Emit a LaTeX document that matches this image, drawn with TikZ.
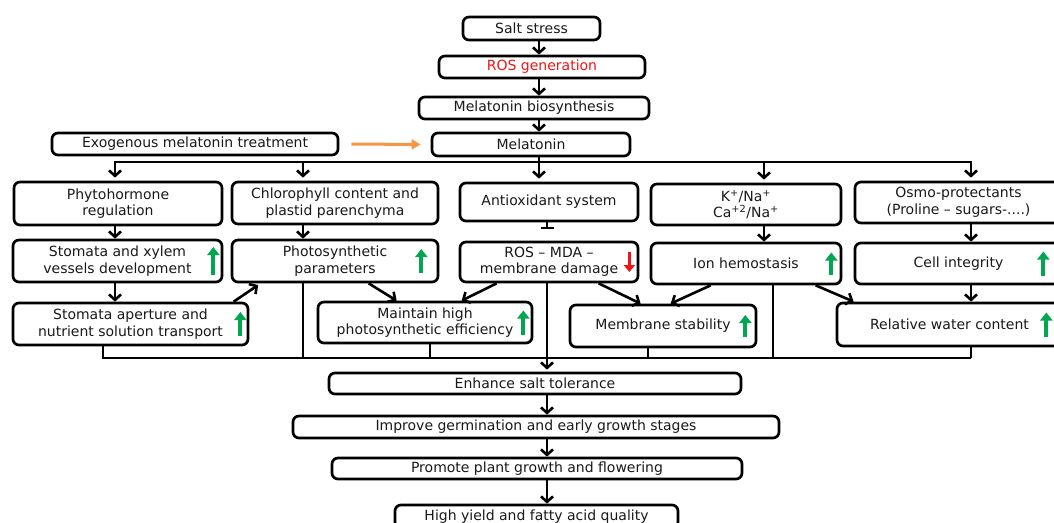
\documentclass[tikz,border=0pt]{standalone}
\usepackage{fontspec}
\setmainfont{DejaVu Sans}
\usetikzlibrary{arrows.meta,calc}
\definecolor{gcol}{RGB}{0,166,80}
\definecolor{rcol}{RGB}{240,20,20}
\definecolor{ocol}{RGB}{247,150,70}
\definecolor{tcol}{RGB}{25,25,25}
\newcommand\gupar[3]{\draw[garr] ($(#1.east)+(-#2,#3)$) -- ($(#1.east)+(-#2,-#3)$);}
\begin{document}
\begin{tikzpicture}[x=1pt,y=-1pt,
  box/.style={draw=black, line width=2.7pt, rounded corners=6pt, align=center, inner sep=0pt,
              font=\fontsize{14}{16.5}\selectfont, text=tcol},
  arr/.style={line width=2.6pt, -{Straight Barb[length=5.5pt,width=12pt]}},
  ln/.style={line width=2.6pt},
  garr/.style={line width=3.8pt, draw=gcol, -{Triangle[length=8pt,width=12pt]}},
  rarr/.style={line width=3.4pt, draw=rcol, -{Triangle[length=7pt,width=11pt]}},
  oarr/.style={line width=3pt, draw=ocol, -{Triangle[length=9pt,width=10pt]}},
]
\useasboundingbox (0,0) rectangle (1054,522);

% top chain
\node[box, minimum width=137pt, minimum height=23pt] (salt) at (531.5,28.5) {Salt stress};
\node[box, minimum width=206pt, minimum height=22pt, text=rcol] (ros) at (542,67) {ROS generation};
\node[box, minimum width=230pt, minimum height=22pt] (bio) at (534,108) {Melatonin biosynthesis};
\node[box, minimum width=198pt, minimum height=23pt] (mel) at (531,144.5) {Melatonin};
\node[box, minimum width=286pt, minimum height=22pt] (exo) at (195,144) {Exogenous melatonin treatment};

% row 1
\node[box, minimum width=208pt, minimum height=43pt] (phyto) at (118,203.5) {Phytohormone\\regulation};
\node[box, minimum width=206pt, minimum height=42pt] (chloro) at (335,203) {Chlorophyll content and\\plastid parenchyma};
\node[box, minimum width=178pt, minimum height=38pt] (anti) at (549,202) {Antioxidant system};
\node[box, minimum width=190pt, minimum height=41pt] (kna) at (746,204.5) {K\textsuperscript{+}/Na\textsuperscript{+}\\Ca\textsuperscript{+2}/Na\textsuperscript{+}};
\node[box, minimum width=207pt, minimum height=41pt] (osmo) at (958.5,202.5) {Osmo-protectants\\(Proline – sugars-....)};

% row 2
\node[box, minimum width=209pt, minimum height=42pt] (stx) at (117.5,261) {Stomata and xylem\\vessels development};
\node[box, minimum width=206pt, minimum height=42pt] (photo) at (335,261) {Photosynthetic\\parameters};
\node[box, minimum width=178pt, minimum height=40pt] (rosm) at (549,262) {ROS – MDA –\\membrane damage};
\node[box, minimum width=190pt, minimum height=41pt] (ion) at (746,263.5) {Ion hemostasis};
\node[box, minimum width=207pt, minimum height=41pt] (cell) at (958.5,263.5) {Cell integrity};

% row 3
\node[box, minimum width=235pt, minimum height=42pt] (sta) at (130.5,324) {Stomata aperture and\\nutrient solution transport};
\node[box, minimum width=214pt, minimum height=41pt] (maint) at (425,322.5) {Maintain high\\photosynthetic efficiency};
\node[box, minimum width=186pt, minimum height=42pt] (memb) at (663,326) {Membrane stability};
\node[box, minimum width=225pt, minimum height=43pt] (rel) at (949.5,324.5) {Relative water content};

% bottom chain
\node[box, minimum width=412pt, minimum height=21pt] (enh) at (535,383.5) {Enhance salt tolerance};
\node[box, minimum width=486pt, minimum height=22pt] (imp) at (536,427) {Improve germination and early growth stages};
\node[box, minimum width=410pt, minimum height=21pt] (prom) at (537,468.5) {Promote plant growth and flowering};
\node[box, minimum width=283pt, minimum height=23pt] (high) at (536.5,516.5) {High yield and fatty acid quality};

% column coordinates
\coordinate (cx) at (539,0);
\coordinate (c1) at (115,0);
\coordinate (c2) at (303,0);
\coordinate (c4) at (764,0);
\coordinate (c5) at (971,0);
\coordinate (ct) at (547,0);
\coordinate (d1) at (103,0);
\coordinate (d3) at (430,0);
\coordinate (d4) at (648,0);
\coordinate (d5) at (773,0);
\coordinate (bus) at (0,162);
\coordinate (bb) at (0,358);

% top chain arrows
\draw[arr] (cx |- salt.south) -- (cx |- ros.north);
\draw[arr] (cx |- ros.south) -- (cx |- bio.north);
\draw[arr] (cx |- bio.south) -- (cx |- mel.north);
\draw[oarr, shorten <=12pt, shorten >=10pt] (exo.east) -- (mel.west);

% top bus
\draw[ln] (cx |- mel.south) -- (cx |- bus);
\draw[ln, line cap=rect] (c1 |- bus) -- (c5 |- bus);
\draw[arr, shorten >=3pt] (c1 |- bus) -- (c1 |- phyto.north);
\draw[arr, shorten >=3pt] (c2 |- bus) -- (c2 |- chloro.north);
\draw[arr, shorten >=3pt] (cx |- bus) -- (cx |- anti.north);
\draw[arr, shorten >=3pt] (c4 |- bus) -- (c4 |- kna.north);
\draw[arr, shorten >=3pt] (c5 |- bus) -- (c5 |- osmo.north);

% row1 -> row2
\draw[arr] (c1 |- phyto.south) -- (c1 |- stx.north);
\draw[arr] (c2 |- chloro.south) -- (c2 |- photo.north);
\draw[ln, -{Bar[width=13pt]}] (ct |- anti.south) -- ($(ct |- anti.south)+(0,7)$);
\draw[arr] (c4 |- kna.south) -- (c4 |- ion.north);
\draw[arr] (c5 |- osmo.south) -- (c5 |- cell.north);

% row2 -> row3
\draw[arr] (c1 |- stx.south) -- (c1 |- sta.north);
\draw[arr] (c5 |- cell.south) -- (c5 |- rel.north);
\draw[arr, shorten >=3pt] ([xshift=222pt]sta.north west) -- ([xshift=30pt]photo.south west);
\draw[arr] ([xshift=138pt]photo.south west) -- ([xshift=80pt]maint.north west);
\draw[arr] ([xshift=38pt]rosm.south west) -- ([xshift=145pt]maint.north west);
\draw[arr] ([xshift=140pt]rosm.south west) -- ([xshift=72pt]memb.north west);
\draw[arr] ([xshift=61pt]ion.south west) -- ([xshift=102pt]memb.north west);
\draw[arr] ([xshift=166pt]ion.south west) -- ([xshift=18pt]rel.north west);

% bottom bus
\draw[ln] (d1 |- sta.south) |- (c5 |- bb);
\draw[ln] (c2 |- photo.south) -- (c2 |- bb);
\draw[ln] (d3 |- maint.south) -- (d3 |- bb);
\draw[ln] (d4 |- memb.south) -- (d4 |- bb);
\draw[ln] (d5 |- ion.south) -- (d5 |- bb);
\draw[ln] (c5 |- rel.south) -- (c5 |- bb);
\draw[arr, shorten >=2pt] (ct |- rosm.south) -- (ct |- enh.north);

% bottom chain arrows
\draw[arr] (ct |- enh.south) -- (ct |- imp.north);
\draw[arr] (ct |- imp.south) -- (ct |- prom.north);
\draw[arr] (ct |- prom.south) -- (ct |- high.north);

% up / down indicators
\gupar{stx}{10}{14}
\gupar{photo}{18}{12}
\gupar{sta}{9}{12}
\gupar{maint}{10}{12}
\gupar{ion}{11}{11}
\gupar{cell}{20}{12}
\gupar{memb}{12}{11}
\gupar{rel}{17}{12}
\draw[rarr] ($(rosm.east)+(-10,-10)$) -- ($(rosm.east)+(-10,10)$);
\end{tikzpicture}
\end{document}
